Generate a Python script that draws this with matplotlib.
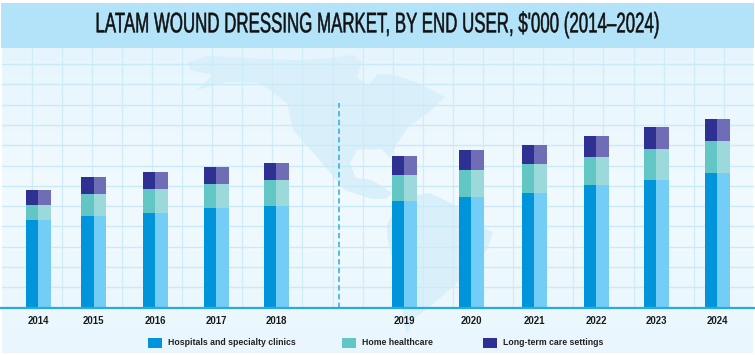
import numpy as np
import matplotlib
matplotlib.use('Agg')
import matplotlib.pyplot as plt
import matplotlib.patheffects as pe
from matplotlib.colors import LinearSegmentedColormap
from matplotlib.patches import Polygon, Rectangle
from matplotlib.transforms import Affine2D

years = ['2014', '2015', '2016', '2017', '2018', '2019', '2020', '2021', '2022', '2023', '2024']
hospitals = [88, 92, 95, 99.5, 102, 107, 110.5, 115, 123, 128, 135]
home_care = [14.5, 22, 23.5, 24.5, 25.5, 25.5, 27, 28.5, 27.5, 30.5, 31.5]
long_term = [15.5, 16.5, 17, 17, 17.5, 19, 20, 19.5, 21, 22, 22.5]
series_names = ['Hospitals and specialty clinics', 'Home healthcare', 'Long-term care settings']

title = "LATAM WOUND DRESSING MARKET, BY END USER, $'000 (2014–2024)"

# layout, in reference pixels
W, H = 755, 355
base_y = 307.5
top_y = 48
centers = [38, 93.5, 155, 216, 276, 404, 471, 534, 596, 656, 717]
bar_w = 25
legend_x = [148, 342, 483]

dark = ['#0095da', '#62c6c4', '#2e3192']
light = ['#73cdf7', '#9bd9da', '#6f6db5']

north_america = [(188, 62), (207, 56), (233, 57), (267, 59), (300, 60), (330, 58), (353, 55), (362, 62),
                 (357, 77), (368, 86), (378, 74), (395, 75), (418, 83), (445, 97), (428, 113), (408, 127),
                 (395, 147), (390, 158), (382, 149), (357, 150), (350, 163), (356, 178), (372, 180),
                 (392, 193), (386, 199), (372, 199), (345, 190), (332, 175), (317, 157), (293, 130),
                 (287, 103), (260, 83), (227, 82), (197, 90), (213, 75), (190, 70)]
south_america = [(395, 208), (405, 197), (430, 193), (455, 205), (470, 222), (493, 232), (488, 248),
                 (475, 265), (455, 285), (432, 305), (415, 318), (407, 335), (403, 322), (402, 302),
                 (398, 282), (388, 242), (387, 225)]


class TallText(pe.AbstractPathEffect):
    # no condensed font here, so stretch a small one upwards and thicken it a bit
    def __init__(self, k, cy, lw):
        super().__init__()
        self.k = k
        self.cy = cy
        self.lw = lw

    def draw_path(self, renderer, gc, tpath, affine, rgbFace=None):
        stretch = Affine2D().translate(0, -self.cy).scale(1, self.k).translate(0, self.cy)
        gc0 = renderer.new_gc()
        gc0.copy_properties(gc)
        gc0.set_linewidth(self.lw)
        gc0.set_foreground(rgbFace)
        renderer.draw_path(gc0, tpath, affine + stretch, rgbFace)
        gc0.restore()


fig = plt.figure(figsize=(W / 100, H / 100), dpi=100, facecolor='white')

# background, map and paper grid
bg = fig.add_axes([0, 0, 1, 1])
shade = np.interp(np.linspace(0, 1, 256), [0, 0.45, 1], [0, 1, 0.3])[:, None]
bg.imshow(shade, extent=[2, W - 2, H - 2, 48], aspect='auto', zorder=0, vmin=0, vmax=1,
          cmap=LinearSegmentedColormap.from_list('paper', ['#e6f5fd', '#f1fafe']))
bg.set_xlim(0, W)
bg.set_ylim(H, 0)
bg.axis('off')
for poly in (north_america, south_america):
    bg.add_patch(Polygon(poly, closed=True, fc='#d9f0fb', ec='none', zorder=1))
for x in np.arange(31.5, 740, 30.1):
    bg.plot([x, x], [48, base_y], color='#cfecf9', lw=0.9, zorder=2)
for y in np.arange(64, 300, 20.3):
    bg.plot([2, W - 2], [y, y], color='#cbeaf8', lw=1.0, zorder=2)
bg.add_patch(Rectangle((1, 3), W - 2, 45, fc='#b2e3f9', ec='none', zorder=3))
bg.text(377.5, 24.8, title, ha='center', va='center', fontsize=12.15, color='#111111',
        family='Liberation Sans', zorder=4,
        path_effects=[TallText(1.68, H - 24.8, 0.35)])

# legend, spaced by hand since the gaps are not even in the original
for x, name, c in zip(legend_x, series_names, dark):
    bg.add_patch(Rectangle((x, 338), 13.5, 9.5, fc=c, ec='none', zorder=3))
    bg.text(x + 20, 342.8, name, ha='left', va='center', fontsize=6.3, fontweight='bold',
            family='Liberation Sans', color='#222222', zorder=4)

# chart, one y unit is one pixel of the reference
ax = fig.add_axes([0, (H - base_y) / H, 1, (base_y - top_y) / H])
ax.patch.set_visible(False)
ax.set_xlim(0, W)
ax.set_ylim(0, base_y - top_y)
bottom = np.zeros(len(years))
for vals, c_dark, c_light in zip([hospitals, home_care, long_term], dark, light):
    vals = np.array(vals)
    ax.bar(np.array(centers) - bar_w / 4, vals, bar_w / 2, bottom=bottom, color=c_dark, lw=0)
    ax.bar(np.array(centers) + bar_w / 4, vals, bar_w / 2, bottom=bottom, color=c_light, lw=0)
    bottom = bottom + vals
ax.axvline(339, ymax=(base_y - 103) / (base_y - top_y), color='#29abe2', lw=1.1, ls=(0, (3.5, 2.2)))

for s in ['top', 'left', 'right']:
    ax.spines[s].set_visible(False)
ax.spines['bottom'].set_color('#29a9e0')
ax.spines['bottom'].set_linewidth(1.6)
ax.set_yticks([])
ax.set_xticks(centers)
ax.set_xticklabels(years, fontsize=6.9, fontweight='bold', family='Liberation Sans', color='#1a1a1a')
ax.tick_params(axis='x', length=0, pad=6)

fig.savefig('out.png', dpi=100)
